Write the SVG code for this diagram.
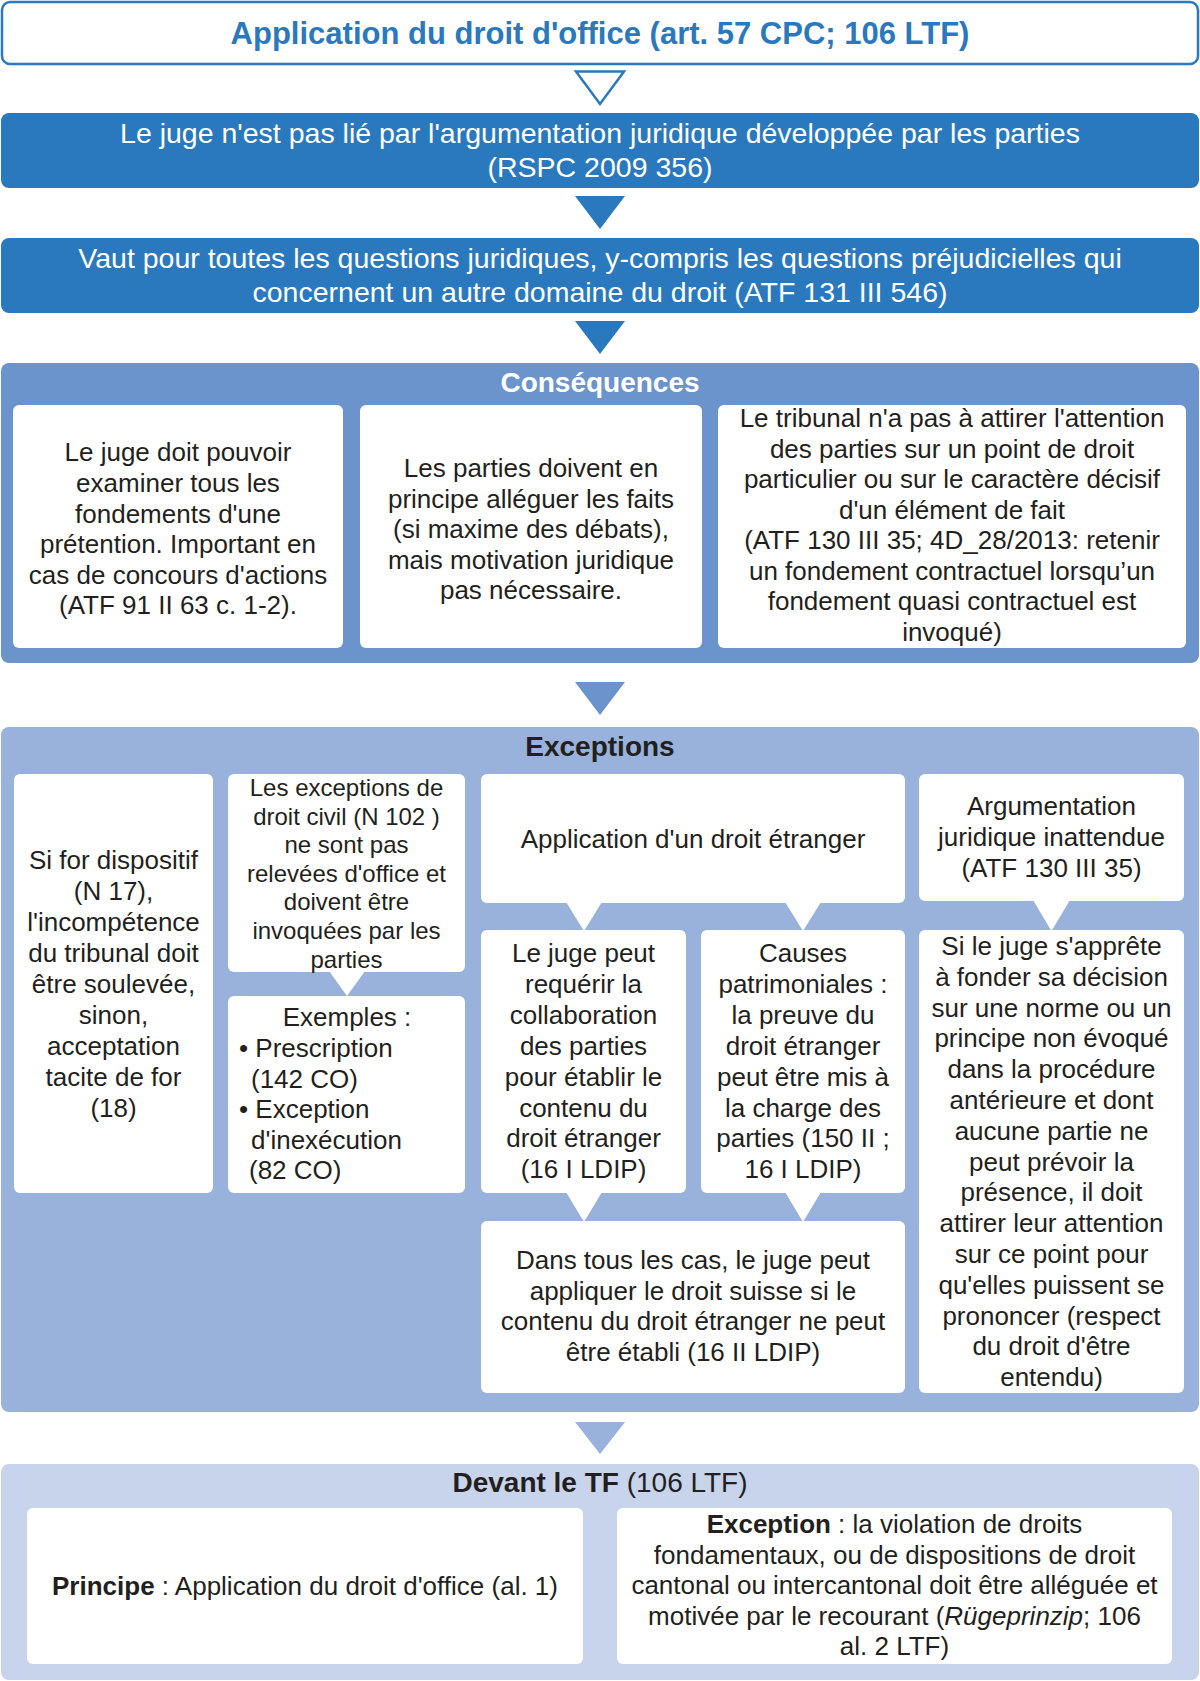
<svg xmlns="http://www.w3.org/2000/svg" width="1200" height="1681" viewBox="0 0 1200 1681">
<style>
text{font-family:"Liberation Sans",Arial,Helvetica,sans-serif;text-anchor:middle}
.title{font-size:31px;font-weight:bold;fill:#2a78bd}
.big{font-size:28.5px;fill:#ffffff}
.head{font-size:28px;font-weight:bold}
.c{font-size:26px;fill:#231f20}
.s{font-size:24px;fill:#231f20}
.l{text-anchor:start}
.box{fill:#ffffff}
.blue{fill:#2a79bf}
.p1{fill:#6b93cc}
.p2{fill:#98b2dc}
.p3{fill:#c8d4ec}
.call{fill:#ffffff}
</style>

<g id="n-title">
<rect x="2" y="2" width="1196" height="62" rx="8" fill="#ffffff" stroke="#2a78bd" stroke-width="2.5"/>
<text class="title" x="600" y="44">Application du droit d'office (art. 57 CPC; 106 LTF)</text>
</g>

<g id="n-juge">
<rect class="blue" x="1" y="113" width="1198" height="75" rx="8"/>
<text class="big" x="600" y="143">Le juge n'est pas lié par l'argumentation juridique développée par les parties</text>
<text class="big" x="600" y="177">(RSPC 2009 356)</text>
</g>

<g id="n-vaut">
<rect class="blue" x="1" y="238" width="1198" height="75" rx="8"/>
<text class="big" x="600" y="268">Vaut pour toutes les questions juridiques, y-compris les questions préjudicielles qui</text>
<text class="big" x="600" y="302">concernent un autre domaine du droit (ATF 131 III 546)</text>
</g>

<g id="n-consequences">
<rect class="p1" x="1" y="363" width="1198" height="300" rx="8"/>
<text class="head" x="600" y="392" fill="#ffffff">Conséquences</text>
<g id="n-cons1">
<rect class="box" x="13" y="405" width="330" height="243" rx="6"/>
<text class="c" x="178" y="461">Le juge doit pouvoir</text>
<text class="c" x="178" y="492">examiner tous les</text>
<text class="c" x="178" y="522.5">fondements d'une</text>
<text class="c" x="178" y="553">prétention. Important en</text>
<text class="c" x="178" y="583.5">cas de concours d'actions</text>
<text class="c" x="178" y="614">(ATF 91 II 63 c. 1-2).</text>
</g>
<g id="n-cons2">
<rect class="box" x="360" y="405" width="342" height="243" rx="6"/>
<text class="c" x="531" y="477">Les parties doivent en</text>
<text class="c" x="531" y="507.5">principe alléguer les faits</text>
<text class="c" x="531" y="538">(si maxime des débats),</text>
<text class="c" x="531" y="568.5">mais motivation juridique</text>
<text class="c" x="531" y="599">pas nécessaire.</text>
</g>
<g id="n-cons3">
<rect class="box" x="718" y="405" width="468" height="243" rx="6"/>
<text class="c" x="952" y="427">Le tribunal n'a pas à attirer l'attention</text>
<text class="c" x="952" y="457.5">des parties sur un point de droit</text>
<text class="c" x="952" y="488">particulier ou sur le caractère décisif</text>
<text class="c" x="952" y="518.5">d'un élément de fait</text>
<text class="c" x="952" y="549">(ATF 130 III 35; 4D_28/2013: retenir</text>
<text class="c" x="952" y="579.5">un fondement contractuel lorsqu’un</text>
<text class="c" x="952" y="610">fondement quasi contractuel est</text>
<text class="c" x="952" y="640.5">invoqué)</text>
</g>
</g>

<g id="n-exceptions">
<rect class="p2" x="1" y="727" width="1198" height="685" rx="8"/>
<text class="head" x="600" y="756" fill="#231f20">Exceptions</text>
<g id="n-exc-for">
<rect class="box" x="14" y="774" width="199" height="419" rx="6"/>
<text class="c" x="113.5" y="869">Si for dispositif</text>
<text class="c" x="113.5" y="900">(N 17),</text>
<text class="c" x="113.5" y="931">l'incompétence</text>
<text class="c" x="113.5" y="962">du tribunal doit</text>
<text class="c" x="113.5" y="993">être soulevée,</text>
<text class="c" x="113.5" y="1024">sinon,</text>
<text class="c" x="113.5" y="1055">acceptation</text>
<text class="c" x="113.5" y="1086">tacite de for</text>
<text class="c" x="113.5" y="1117">(18)</text>
</g>
<g id="n-exc-civil">
<rect class="box" x="228" y="774" width="237" height="198" rx="6"/>
<text class="s" x="346.5" y="796">Les exceptions de</text>
<text class="s" x="346.5" y="824.6">droit civil (N 102 )</text>
<text class="s" x="346.5" y="853.2">ne sont pas</text>
<text class="s" x="346.5" y="881.8">relevées d'office et</text>
<text class="s" x="346.5" y="910.4">doivent être</text>
<text class="s" x="346.5" y="939">invoquées par les</text>
<text class="s" x="346.5" y="967.6">parties</text>
</g>
<g id="n-exc-exemples">
<rect class="box" x="228" y="996" width="237" height="197" rx="6"/>
<text class="c" x="347" y="1026">Exemples :</text>
<text class="c l" x="239" y="1057">• Prescription</text>
<text class="c l" x="251" y="1087.5">(142 CO)</text>
<text class="c l" x="239" y="1118">• Exception</text>
<text class="c l" x="251" y="1148.5">d'inexécution</text>
<text class="c l" x="249" y="1179">(82 CO)</text>
</g>
<g id="n-exc-etranger">
<rect class="box" x="481" y="774" width="424" height="129" rx="6"/>
<text class="c" x="693" y="847.5">Application d'un droit étranger</text>
</g>
<g id="n-exc-collab">
<rect class="box" x="481" y="930" width="205" height="263" rx="6"/>
<text class="c" x="583.5" y="962">Le juge peut</text>
<text class="c" x="583.5" y="992.9">requérir la</text>
<text class="c" x="583.5" y="1023.8">collaboration</text>
<text class="c" x="583.5" y="1054.7">des parties</text>
<text class="c" x="583.5" y="1085.6">pour établir le</text>
<text class="c" x="583.5" y="1116.5">contenu du</text>
<text class="c" x="583.5" y="1147.4">droit étranger</text>
<text class="c" x="583.5" y="1178.3">(16 I LDIP)</text>
</g>
<g id="n-exc-patrim">
<rect class="box" x="701" y="930" width="204" height="263" rx="6"/>
<text class="c" x="803" y="962">Causes</text>
<text class="c" x="803" y="992.9">patrimoniales :</text>
<text class="c" x="803" y="1023.8">la preuve du</text>
<text class="c" x="803" y="1054.7">droit étranger</text>
<text class="c" x="803" y="1085.6">peut être mis à</text>
<text class="c" x="803" y="1116.5">la charge des</text>
<text class="c" x="803" y="1147.4">parties (150 II ;</text>
<text class="c" x="803" y="1178.3">16 I LDIP)</text>
</g>
<g id="n-exc-suisse">
<rect class="box" x="481" y="1221" width="424" height="172" rx="6"/>
<text class="c" x="693" y="1269">Dans tous les cas, le juge peut</text>
<text class="c" x="693" y="1299.5">appliquer le droit suisse si le</text>
<text class="c" x="693" y="1330">contenu du droit étranger ne peut</text>
<text class="c" x="693" y="1360.5">être établi (16 II LDIP)</text>
</g>
<g id="n-exc-inattendue">
<rect class="box" x="919" y="774" width="265" height="127" rx="6"/>
<text class="c" x="1051.5" y="815">Argumentation</text>
<text class="c" x="1051.5" y="846">juridique inattendue</text>
<text class="c" x="1051.5" y="877">(ATF 130 III 35)</text>
</g>
<g id="n-exc-attention">
<rect class="box" x="919" y="930" width="265" height="463" rx="6"/>
<text class="c" x="1051.5" y="955">Si le juge s'apprête</text>
<text class="c" x="1051.5" y="985.8">à fonder sa décision</text>
<text class="c" x="1051.5" y="1016.6">sur une norme ou un</text>
<text class="c" x="1051.5" y="1047.4">principe non évoqué</text>
<text class="c" x="1051.5" y="1078.2">dans la procédure</text>
<text class="c" x="1051.5" y="1109">antérieure et dont</text>
<text class="c" x="1051.5" y="1139.8">aucune partie ne</text>
<text class="c" x="1051.5" y="1170.6">peut prévoir la</text>
<text class="c" x="1051.5" y="1201.4">présence, il doit</text>
<text class="c" x="1051.5" y="1232.2">attirer leur attention</text>
<text class="c" x="1051.5" y="1263">sur ce point pour</text>
<text class="c" x="1051.5" y="1293.8">qu'elles puissent se</text>
<text class="c" x="1051.5" y="1324.6">prononcer (respect</text>
<text class="c" x="1051.5" y="1355.4">du droit d'être</text>
<text class="c" x="1051.5" y="1386.2">entendu)</text>
</g>
</g>

<g id="n-tf">
<rect class="p3" x="1" y="1464" width="1198" height="216" rx="8"/>
<text x="600" y="1492" font-size="28" fill="#231f20"><tspan font-weight="bold">Devant le TF</tspan> (106 LTF)</text>
<g id="n-tf-principe">
<rect class="box" x="27" y="1508" width="556" height="156" rx="6"/>
<text class="c" x="305" y="1595"><tspan font-weight="bold">Principe</tspan> : Application du droit d'office (al. 1)</text>
</g>
<g id="n-tf-exception">
<rect class="box" x="617" y="1508" width="555" height="156" rx="6"/>
<text class="c" x="894.5" y="1533"><tspan font-weight="bold">Exception</tspan> : la violation de droits</text>
<text class="c" x="894.5" y="1563.5">fondamentaux, ou de dispositions de droit</text>
<text class="c" x="894.5" y="1594">cantonal ou intercantonal doit être alléguée et</text>
<text class="c" x="894.5" y="1624.5">motivée par le recourant (<tspan font-style="italic">Rügeprinzip</tspan>; 106</text>
<text class="c" x="894.5" y="1655">al. 2 LTF)</text>
</g>
</g>

<g id="connectors">
<polygon points="576,71.5 624,71.5 600,104" fill="#ffffff" stroke="#2a78bd" stroke-width="2.5" stroke-linejoin="miter"/>
<polygon class="blue" points="575,196 625,196 600,229"/>
<polygon class="blue" points="575,321 625,321 600,354"/>
<polygon class="p1" points="575,682 625,682 600,715"/>
<polygon class="p2" points="575,1422 625,1422 600,1454"/>
<polygon class="call" points="329,971 365,971 347,996"/>
<polygon class="call" points="566,902 602,902 584,931"/>
<polygon class="call" points="785,902 821,902 803,931"/>
<polygon class="call" points="1033,900 1070,900 1051.5,931"/>
<polygon class="call" points="566,1192 602,1192 584,1222"/>
<polygon class="call" points="785,1192 821,1192 803,1222"/>
</g>
</svg>
